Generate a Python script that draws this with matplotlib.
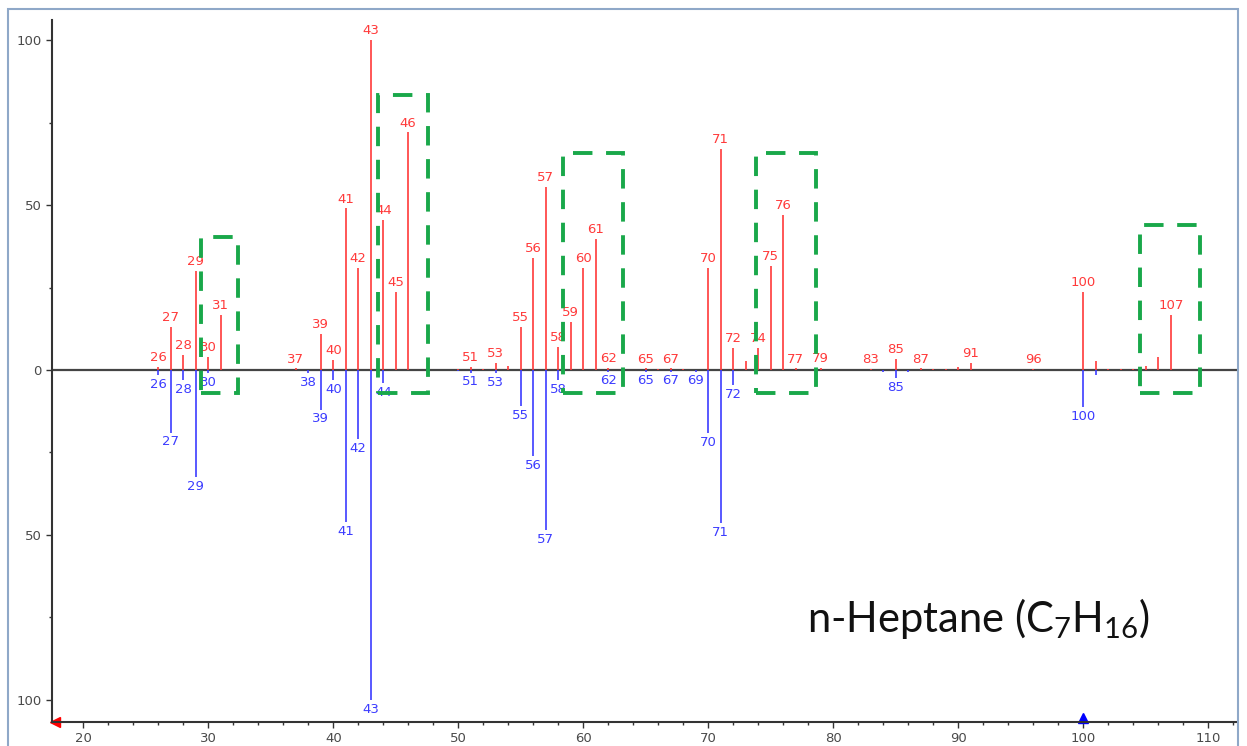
import matplotlib
matplotlib.use("Agg")
import matplotlib.pyplot as plt
from matplotlib.patches import Rectangle
from matplotlib.ticker import FuncFormatter, MultipleLocator

plt.rcParams["mathtext.fontset"] = "custom"
plt.rcParams["mathtext.rm"] = "Lato"
plt.rcParams["mathtext.it"] = "Lato:italic"

# upper (red) spectrum
red_mz = [26, 27, 28, 29, 30, 31, 37, 39, 40, 41, 42, 43, 44, 45, 46,
          50, 51, 52, 53, 54, 55, 56, 57, 58, 59, 60, 61, 62,
          65, 66, 67, 68, 70, 71, 72, 73, 74, 75, 76, 77, 79,
          83, 85, 87, 88, 89, 90, 91, 96, 100, 101, 102, 103, 104, 105, 106, 107]
red_int = [1, 13, 4.5, 30, 4, 16.7, 0.5, 11, 3, 49, 31, 100, 45.5, 23.7, 72,
           0.4, 1, 0.4, 2.2, 1.2, 13, 34, 55.5, 7, 14.5, 31, 39.7, 0.6,
           0.5, 0.4, 0.5, 0.3, 31, 67, 6.7, 2.7, 6.7, 31.5, 47, 0.5, 0.7,
           0.3, 3.3, 0.5, 0.3, 0.3, 1, 2.2, 0.4, 23.7, 2.7, 0.3, 0.3, 0.3, 1.2, 3.9, 16.7]
red_labeled = [26, 27, 28, 29, 30, 31, 37, 39, 40, 41, 42, 43, 44, 45, 46,
               51, 53, 55, 56, 57, 58, 59, 60, 61, 62, 65, 67, 70, 71, 72,
               74, 75, 76, 77, 79, 83, 85, 87, 91, 96, 100, 107]

# lower (blue) spectrum
blue_mz = [26, 27, 28, 29, 30, 38, 39, 40, 41, 42, 43, 44, 50, 51, 53,
           55, 56, 57, 58, 62, 65, 67, 69, 70, 71, 72, 84, 85, 86, 100, 101]
blue_int = [1.5, 19, 3, 32.5, 1, 1, 12, 3, 46, 21, 100, 4, 0.3, 0.8, 1,
            11, 26, 48.5, 3, 0.5, 0.5, 0.5, 0.5, 19.2, 46.5, 4.5, 0.5, 2.5, 0.5, 11.2, 1.5]
blue_labeled = [26, 27, 28, 29, 30, 38, 39, 40, 41, 42, 43, 44, 51, 53,
                55, 56, 57, 58, 62, 65, 67, 69, 70, 71, 72, 85, 100]

# dashed green highlight boxes
box_left = [29.4, 43.6, 58.4, 73.8, 104.5]
box_right = [32.4, 47.6, 63.2, 78.6, 109.3]
box_top = [40.3, 83.3, 65.8, 65.8, 44]
box_bottom = [-7, -7, -7, -7, -7]

title_text = "n-Heptane (C$_{7}$H$_{16}$)"

RED = "#ff3a3a"
BLUE = "#3c3cff"
GREEN = "#19a84a"


def draw_spectrum(ax, mz, inten, labeled, color, sign):
    for m, v in zip(mz, inten):
        ax.plot([m, m], [0, sign * v], color=color, lw=1.2, solid_capstyle="butt")
        if m in labeled:
            ax.annotate(str(m), (m, sign * v), xytext=(0, 2 * sign),
                        textcoords="offset points", ha="center",
                        va="bottom" if sign > 0 else "top",
                        color=color, fontsize=9.5)


def main():
    fig = plt.figure(figsize=(12.47, 7.46), dpi=100)
    ax = fig.add_axes([52 / 1247, 24 / 746, 1185 / 1247, 702 / 746])

    # window frame
    fig.patches.append(Rectangle((8 / 1247, -0.01), 1230 / 1247, 737 / 746 + 0.01,
                                 transform=fig.transFigure, fill=False,
                                 edgecolor="#8fa8c8", lw=1.5))

    ax.axhline(0, color="#444444", lw=1.6, zorder=1)
    draw_spectrum(ax, red_mz, red_int, red_labeled, RED, 1)
    draw_spectrum(ax, blue_mz, blue_int, blue_labeled, BLUE, -1)

    for l, r, t, b in zip(box_left, box_right, box_top, box_bottom):
        ax.add_patch(Rectangle((l, b), r - l, t - b, fill=False, edgecolor=GREEN,
                               lw=2.8, linestyle=(0, (5, 3.5)), zorder=3))

    ax.set_xlim(17.5, 112.3)
    ax.set_ylim(-106.7, 106.1)
    ax.spines["top"].set_visible(False)
    ax.spines["right"].set_visible(False)
    for side in ["left", "bottom"]:
        ax.spines[side].set_color("#333333")
        ax.spines[side].set_linewidth(1.5)

    ax.xaxis.set_major_locator(MultipleLocator(10))
    ax.xaxis.set_minor_locator(MultipleLocator(2))
    ax.yaxis.set_major_locator(MultipleLocator(50))
    ax.yaxis.set_minor_locator(MultipleLocator(25))
    ax.yaxis.set_major_formatter(FuncFormatter(lambda v, p: "%d" % abs(v)))
    ax.tick_params(axis="both", which="major", labelsize=9.5, labelcolor="#4a4a4a",
                   color="#333333", length=4, width=1)
    ax.tick_params(axis="both", which="minor", color="#333333", length=2.5, width=1)

    # scroll markers
    ax.plot([17.7], [-106.7], marker="<", color="red", ms=7, clip_on=False)
    ax.plot([100], [-105.5], marker="^", color="blue", ms=7, clip_on=False)

    ax.text(0.637, 0.128, title_text, transform=ax.transAxes, fontsize=30,
            family="Lato", ha="left", va="baseline", color="#111111")

    fig.savefig("out.png", dpi=100)


if __name__ == "__main__":
    main()
